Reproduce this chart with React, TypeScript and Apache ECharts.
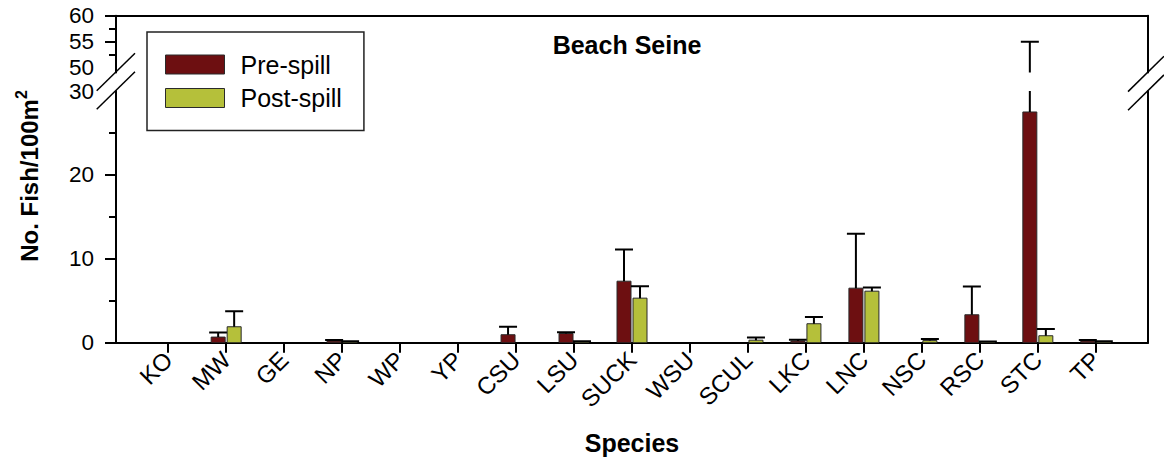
import React, { useEffect, useRef } from "react";
import * as echarts from "echarts";

// Beach seine catch per species, before and after the spill (mean and upper error)
const SPECIES = ["KO", "MW", "GE", "NP", "WP", "YP", "CSU", "LSU", "SUCK", "WSU", "SCUL", "LKC", "LNC", "NSC", "RSC", "STC", "TP"];
const PRE_MEAN = [0, 0.67, 0, 0.2, 0, 0, 0.95, 1.1, 7.33, 0, 0, 0.2, 6.5, 0, 3.33, 27.5, 0.2];
const PRE_ERR = [0, 0.56, 0, 0.12, 0, 0, 0.95, 0.16, 3.77, 0, 0, 0.16, 6.5, 0, 3.37, 27.5, 0.12];
const POST_MEAN = [0, 1.9, 0, 0.1, 0, 0, 0, 0.12, 5.31, 0, 0.3, 2.26, 6.14, 0.25, 0.1, 0.83, 0.1];
const POST_ERR = [0, 1.86, 0, 0.08, 0, 0, 0, 0.05, 1.43, 0, 0.33, 0.79, 0.44, 0.18, 0.05, 0.79, 0.06];

// Broken y axis: lower panel 0–30, upper panel 50–60
const LOWER_LABELS = [0, 10, 20, 30];
const LOWER_MAJOR = [0, 10, 20];
const LOWER_MINOR = [5, 15, 25];
const UPPER_LABELS = [50, 55, 60];
const UPPER_MAJOR = [55, 60];
const UPPER_MINOR = [52.5, 57.5];

const PRE_COLOR = "#6D0F11";
const POST_COLOR = "#B5C03A";
const FONT = "'Liberation Sans', Arial, Helvetica, sans-serif";

const CAT_IDX = SPECIES.map((_, i) => i);

function makeRenderer(offset: number) {
  return (params: any, api: any) => {
    const xi = api.value(0);
    const v = api.value(1);
    const e = api.value(2);
    if (!v) return null;
    const base = api.coord([xi, 0]);
    const top = api.coord([xi, v]);
    const cx = base[0] + offset;
    const w = 14;
    const children: any[] = [
      {
        type: "rect",
        shape: { x: cx - w / 2, y: top[1], width: w, height: base[1] - top[1] },
        style: { fill: api.visual("color"), stroke: "#2a2a2a", lineWidth: 1 },
      },
    ];
    if (e) {
      const et = api.coord([xi, v + e]);
      children.push(
        { type: "line", shape: { x1: cx, y1: top[1], x2: cx, y2: et[1] }, style: { stroke: "#000", lineWidth: 2 } },
        { type: "line", shape: { x1: cx - 9, y1: et[1], x2: cx + 9, y2: et[1] }, style: { stroke: "#000", lineWidth: 2 } }
      );
    }
    return { type: "group", children };
  };
}

const preRows = SPECIES.map((_, i) => [i, PRE_MEAN[i], PRE_ERR[i]]);
const postRows = SPECIES.map((_, i) => [i, POST_MEAN[i], POST_ERR[i]]);

const hiddenAxisParts = {
  axisLine: { show: false },
  axisTick: { show: false },
  axisLabel: { show: false },
  splitLine: { show: false },
};

export default function App() {
  const ref = useRef<HTMLDivElement>(null);

  useEffect(() => {
    if (!ref.current) return;
    const chart = echarts.init(ref.current, undefined, { renderer: "svg" });

    const lineStyle = { color: "#000", width: 2 };
    const labelStyle = { color: "#000", fontSize: 24, fontFamily: FONT };
    const yLabelStyle = { color: "#000", fontSize: 22.5, fontFamily: FONT };

    const option: any = {
      animation: false,
      backgroundColor: "#fff",
      grid: [
        { left: 116, right: 16, top: 91, bottom: 119.3 },
        { left: 116, right: 16, top: 15.7, bottom: 389.6 },
      ],
      xAxis: [
        {
          type: "value",
          gridIndex: 0,
          min: -0.9,
          max: 16.9,
          position: "bottom",
          axisLine: { show: true, onZero: false, lineStyle },
          axisTick: { show: true, customValues: CAT_IDX, length: 10, lineStyle },
          axisLabel: {
            show: true,
            customValues: CAT_IDX,
            formatter: (v: number) => SPECIES[Math.round(v)] ?? "",
            rotate: 45,
            margin: 13,
            ...labelStyle,
          },
          splitLine: { show: false },
        },
        {
          type: "value",
          gridIndex: 1,
          min: -0.9,
          max: 16.9,
          position: "top",
          axisLine: { show: true, onZero: false, lineStyle },
          axisTick: { show: false },
          axisLabel: { show: false },
          splitLine: { show: false },
        },
      ],
      yAxis: [
        {
          type: "value",
          gridIndex: 0,
          min: 0,
          max: 30,
          position: "left",
          axisLine: { show: true, onZero: false, lineStyle },
          axisTick: { show: true, customValues: LOWER_MAJOR, length: 11, lineStyle },
          axisLabel: { show: true, customValues: LOWER_LABELS, margin: 22, ...yLabelStyle },
          splitLine: { show: false },
        },
        {
          type: "value",
          gridIndex: 0,
          min: 0,
          max: 30,
          position: "left",
          ...hiddenAxisParts,
          axisLine: { show: false, onZero: false },
          axisTick: { show: true, customValues: LOWER_MINOR, length: 7, lineStyle },
        },
        {
          type: "value",
          gridIndex: 0,
          min: 0,
          max: 30,
          position: "right",
          ...hiddenAxisParts,
          axisLine: { show: true, onZero: false, lineStyle },
        },
        {
          type: "value",
          gridIndex: 1,
          min: 49.1,
          max: 60,
          position: "left",
          axisLine: { show: true, onZero: false, lineStyle },
          axisTick: { show: true, customValues: UPPER_MAJOR, length: 11, lineStyle },
          axisLabel: { show: true, customValues: UPPER_LABELS, margin: 22, ...yLabelStyle },
          splitLine: { show: false },
        },
        {
          type: "value",
          gridIndex: 1,
          min: 49.1,
          max: 60,
          position: "left",
          ...hiddenAxisParts,
          axisLine: { show: false, onZero: false },
          axisTick: { show: true, customValues: UPPER_MINOR, length: 7, lineStyle },
        },
        {
          type: "value",
          gridIndex: 1,
          min: 49.1,
          max: 60,
          position: "right",
          ...hiddenAxisParts,
          axisLine: { show: true, onZero: false, lineStyle },
        },
      ],
      legend: {
        orient: "vertical",
        left: 147,
        top: 32,
        padding: [20, 22, 20, 18],
        borderColor: "#222",
        borderWidth: 1.5,
        backgroundColor: "#fff",
        itemWidth: 59,
        itemHeight: 19,
        itemGap: 8.5,
        icon: "rect",
        selectedMode: false,
        textStyle: { fontSize: 25, lineHeight: 24, color: "#000", fontFamily: FONT, padding: [0, 0, 0, 11] },
        data: [
          { name: "Pre-spill", itemStyle: { color: PRE_COLOR, borderColor: "#2a2a2a", borderWidth: 1 } },
          { name: "Post-spill", itemStyle: { color: POST_COLOR, borderColor: "#2a2a2a", borderWidth: 1 } },
        ],
      },
      series: [
        { type: "custom", name: "Pre-spill", xAxisIndex: 0, yAxisIndex: 0, clip: true, itemStyle: { color: PRE_COLOR }, renderItem: makeRenderer(-8), data: preRows, z: 3 },
        { type: "custom", name: "Post-spill", xAxisIndex: 0, yAxisIndex: 0, clip: true, itemStyle: { color: POST_COLOR }, renderItem: makeRenderer(8), data: postRows, z: 3 },
        { type: "custom", name: "Pre-spill", xAxisIndex: 1, yAxisIndex: 3, clip: true, itemStyle: { color: PRE_COLOR }, renderItem: makeRenderer(-8), data: preRows, z: 3 },
        { type: "custom", name: "Post-spill", xAxisIndex: 1, yAxisIndex: 3, clip: true, itemStyle: { color: POST_COLOR }, renderItem: makeRenderer(8), data: postRows, z: 3 },
      ],
      graphic: [
        {
          type: "text",
          x: 627,
          y: 45,
          style: { text: "Beach Seine", font: `bold 25px ${FONT}`, fill: "#000", align: "center", verticalAlign: "middle" },
        },
        {
          type: "text",
          x: 632,
          y: 443,
          style: { text: "Species", font: `bold 25px ${FONT}`, fill: "#000", align: "center", verticalAlign: "middle" },
        },
        {
          type: "text",
          x: 27,
          y: 176,
          rotation: Math.PI / 2,
          style: {
            text: "{m|No. Fish/100m}{s|2}",
            align: "center",
            verticalAlign: "middle",
            rich: {
              m: { font: `bold 24px ${FONT}`, fill: "#000", color: "#000", verticalAlign: "bottom", lineHeight: 28 },
              s: { font: `bold 16px ${FONT}`, fill: "#000", color: "#000", verticalAlign: "top", lineHeight: 28 },
            },
          },
        },
        // axis break marks, left side
        { type: "line", shape: { x1: 96.7, y1: 90.7, x2: 135, y2: 53.3 }, style: { stroke: "#000", lineWidth: 1.5 }, z: 10 },
        { type: "line", shape: { x1: 96.7, y1: 109.3, x2: 135, y2: 71.7 }, style: { stroke: "#000", lineWidth: 1.5 }, z: 10 },
        // axis break marks, right side
        { type: "line", shape: { x1: 1128, y1: 91.6, x2: 1164, y2: 56.3 }, style: { stroke: "#000", lineWidth: 1.5 }, z: 10 },
        { type: "line", shape: { x1: 1128, y1: 110.2, x2: 1164, y2: 74.9 }, style: { stroke: "#000", lineWidth: 1.5 }, z: 10 },
      ],
    };

    chart.setOption(option);
    return () => chart.dispose();
  }, []);

  return (
    <div
      ref={ref}
      style={{ position: "absolute", left: 0, top: 0, width: 1164, height: 462, background: "#fff" }}
    />
  );
}
